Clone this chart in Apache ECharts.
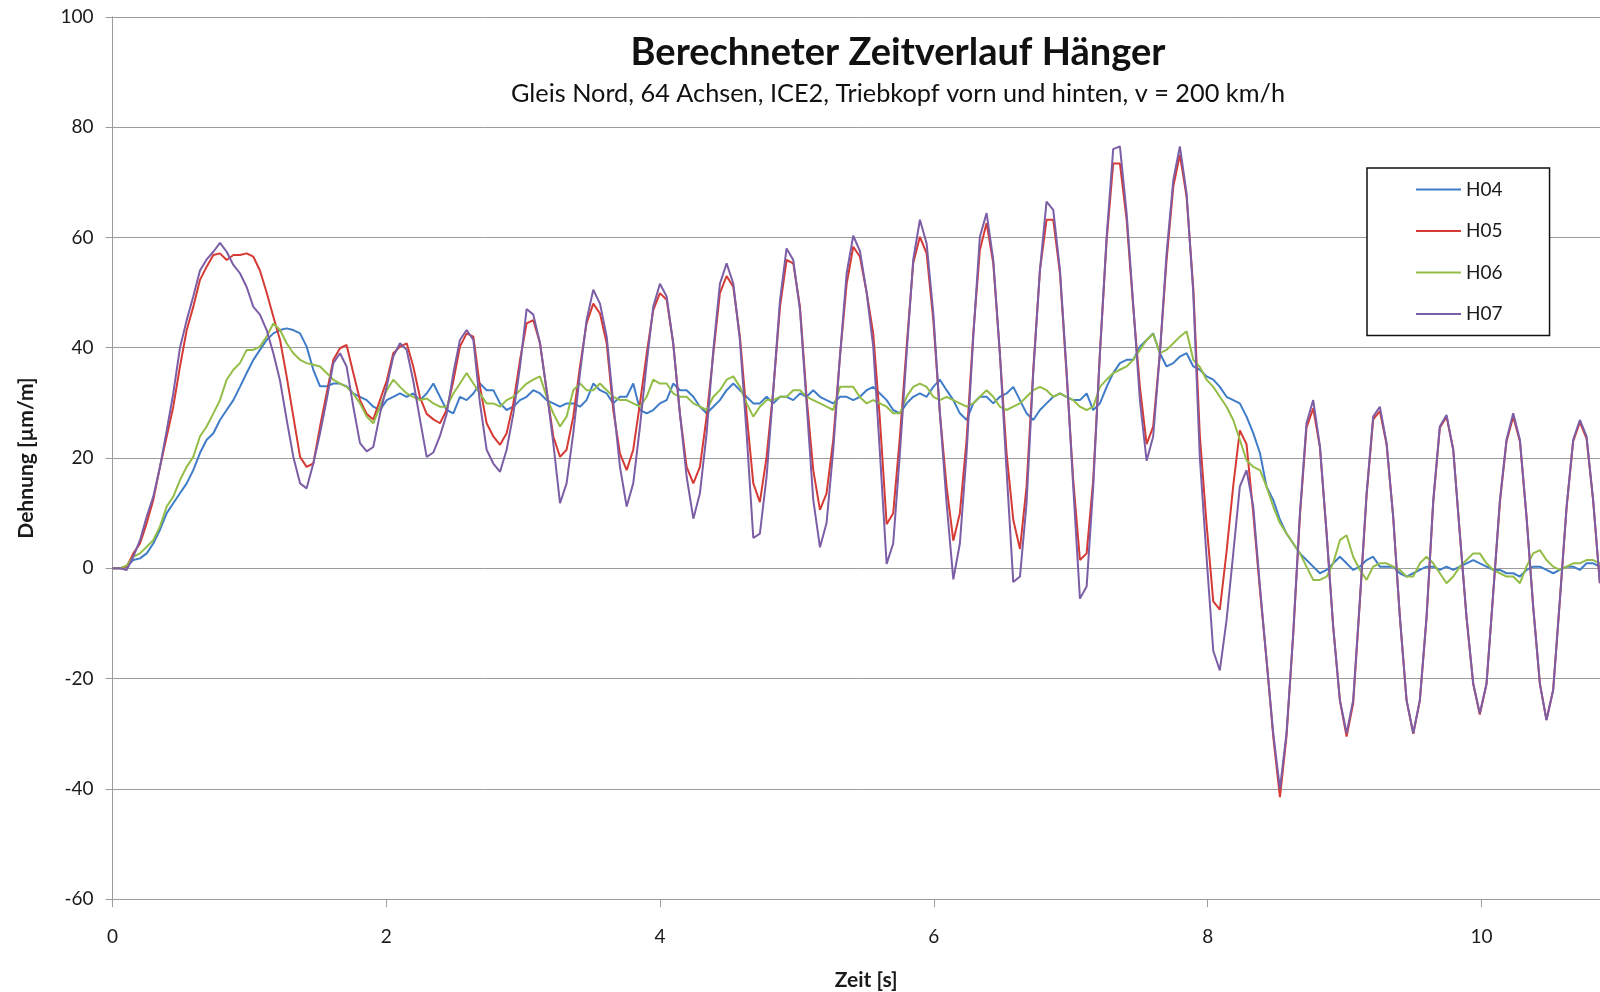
<!DOCTYPE html>
<html>
<head>
<meta charset="utf-8">
<title>Berechneter Zeitverlauf Hänger</title>
<script src="https://cdn.jsdelivr.net/npm/echarts@6/dist/echarts.min.js"></script>
<style>
  html, body { margin: 0; padding: 0; background: #ffffff; }
  #chart { width: 1600px; height: 992px; }
</style>
</head>
<body>
<div id="chart"></div>
<script>
// Zeitstempel der Messpunkte [s]
const zeit = [
  0, 0.055, 0.103, 0.152, 0.201, 0.250, 0.298, 0.347, 0.396, 0.444,
  0.493, 0.542, 0.590, 0.639, 0.688, 0.737, 0.785, 0.834, 0.883, 0.931,
  0.980, 1.029, 1.077, 1.126, 1.175, 1.224, 1.272, 1.321, 1.370, 1.418,
  1.467, 1.516, 1.564, 1.613, 1.662, 1.710, 1.759, 1.808, 1.857, 1.905,
  1.954, 2.003, 2.051, 2.100, 2.149, 2.197, 2.246, 2.295, 2.344, 2.392,
  2.441, 2.490, 2.538, 2.587, 2.636, 2.684, 2.733, 2.782, 2.831, 2.879,
  2.928, 2.977, 3.025, 3.074, 3.123, 3.171, 3.220, 3.269, 3.317, 3.366,
  3.415, 3.463, 3.512, 3.561, 3.610, 3.658, 3.707, 3.756, 3.804, 3.853,
  3.902, 3.950, 3.999, 4.048, 4.096, 4.145, 4.194, 4.243, 4.291, 4.340,
  4.389, 4.437, 4.486, 4.535, 4.583, 4.632, 4.681, 4.729, 4.778, 4.827,
  4.876, 4.924, 4.973, 5.022, 5.070, 5.119, 5.168, 5.216, 5.265, 5.314,
  5.363, 5.411, 5.460, 5.509, 5.557, 5.606, 5.655, 5.703, 5.752, 5.801,
  5.849, 5.898, 5.947, 5.996, 6.044, 6.093, 6.142, 6.190, 6.239, 6.288,
  6.336, 6.385, 6.434, 6.482, 6.531, 6.580, 6.629, 6.677, 6.726, 6.775,
  6.823, 6.872, 6.921, 6.969, 7.018, 7.067, 7.116, 7.164, 7.213, 7.262,
  7.310, 7.359, 7.408, 7.456, 7.505, 7.554, 7.602, 7.651, 7.700, 7.749,
  7.797, 7.846, 7.895, 7.943, 7.992, 8.041, 8.089, 8.138, 8.187, 8.235,
  8.284, 8.333, 8.382, 8.430, 8.479, 8.528, 8.576, 8.625, 8.674, 8.722,
  8.771, 8.820, 8.869, 8.917, 8.966, 9.015, 9.063, 9.112, 9.161, 9.209,
  9.258, 9.307, 9.355, 9.404, 9.453, 9.502, 9.550, 9.599, 9.648, 9.696,
  9.745, 9.794, 9.842, 9.891, 9.940, 9.988, 10.037, 10.086, 10.135, 10.183,
  10.232, 10.281, 10.329, 10.378, 10.427, 10.475, 10.524, 10.573, 10.622, 10.670,
  10.719, 10.768, 10.816, 10.865
];

// Dehnung [µm/m] je Messstelle
const h04 = [
  0, 0, 0.3, 1.5, 1.8, 2.7, 4.5, 7, 10, 11.8,
  13.6, 15.4, 17.8, 20.9, 23.3, 24.5, 26.9, 28.7, 30.5, 32.9,
  35.4, 37.8, 39.6, 41.4, 42.6, 43.2, 43.5, 43.2, 42.6, 40.2,
  36, 33, 33, 33.5, 33.5, 33, 31.7, 31.1, 30.5, 29.3,
  28.7, 30.5, 31.1, 31.7, 31.1, 31.7, 30.5, 31.7, 33.5, 31.1,
  28.7, 28.1, 31.1, 30.5, 31.7, 33.5, 32.3, 32.3, 29.9, 28.7,
  29.3, 30.5, 31.1, 32.3, 31.7, 30.5, 29.9, 29.3, 29.9, 29.9,
  29.3, 30.5, 33.5, 32.3, 31.7, 29.9, 31.1, 31.1, 33.5, 28.7,
  28.1, 28.7, 29.9, 30.5, 33.5, 32.3, 32.3, 31.1, 29.3, 28.1,
  29.3, 30.5, 32.3, 33.5, 32.3, 31.1, 29.9, 29.9, 31.1, 29.9,
  31.1, 31.1, 30.5, 31.7, 31.1, 32.3, 31.1, 30.5, 29.9, 31.1,
  31.1, 30.5, 31.1, 32.3, 32.9, 31.7, 30.5, 28.7, 28.1, 29.9,
  31.1, 31.7, 31.1, 32.9, 34.2, 32.3, 30.5, 28.1, 26.9, 29.9,
  31.1, 31.1, 29.9, 31.1, 31.7, 32.9, 30.5, 28.1, 26.9, 28.7,
  29.9, 31.1, 31.7, 31.1, 30.5, 30.5, 31.7, 28.7, 29.9, 32.9,
  35.4, 37.2, 37.8, 37.8, 40.2, 41.4, 42.6, 39, 36.6, 37.2,
  38.4, 39, 36.6, 36, 34.8, 34.2, 32.9, 31.1, 30.5, 29.9,
  27.5, 24.5, 20.9, 14.8, 12.4, 8.8, 6.3, 4.5, 2.7, 1.5,
  0.3, -0.9, -0.3, 0.9, 2.1, 0.9, -0.3, 0.3, 1.5, 2.1,
  0.3, 0.3, 0.3, -0.9, -1.5, -0.9, -0.3, 0.3, 0.3, -0.3,
  0.3, -0.3, 0.3, 0.9, 1.5, 0.9, 0.3, -0.3, -0.3, -0.9,
  -0.9, -1.5, -0.3, 0.3, 0.3, -0.3, -0.9, -0.3, 0.3, 0.3,
  -0.3, 0.9, 0.9, 0.3
];

const h05 = [
  0, 0, 0.3, 2.7, 4.5, 8.2, 12.4, 18.4, 23.9, 29.3,
  36.6, 43.2, 47.4, 52.3, 54.7, 56.8, 57.1, 55.9, 56.8, 56.8,
  57.1, 56.5, 54, 50, 45.6, 41.4, 34.8, 27.5, 20.2, 18.4,
  19, 25.7, 31.7, 37.8, 39.9, 40.5, 35.4, 30.5, 28, 27,
  30.5, 34, 39, 40.2, 40.8, 36.6, 31, 28, 27, 26.3,
  28.7, 34, 40.2, 42.6, 42, 33, 26.3, 23.9, 22.4, 24.5,
  29.9, 37.8, 44.4, 45, 40.8, 32.3, 23.9, 20.2, 21.5, 27.5,
  36.6, 44.4, 48, 46.2, 40.8, 28.7, 20.8, 17.8, 21.5, 29.9,
  38.9, 46.8, 49.9, 48.7, 40.8, 28, 18.4, 15.4, 18.4, 27.5,
  38.9, 49.9, 53, 51, 42, 28, 15.4, 12, 20.2, 32.3,
  47.4, 55.9, 55.3, 47.4, 31.1, 17.8, 10.6, 13.6, 23.3, 38.4,
  51.6, 58.3, 56.5, 50, 42.6, 26.9, 8, 10, 23.9, 40.2,
  55.3, 60.1, 57.1, 45, 28.1, 14.8, 5, 10, 23.3, 42.6,
  57.7, 62.6, 55.3, 39, 20.9, 8.8, 3.5, 14.8, 36, 54.1,
  63.2, 63.2, 53.5, 35.4, 16, 1.5, 2.7, 16, 39, 59.5,
  73.4, 73.4, 63.2, 47.4, 32.9, 22.5, 25.7, 39, 55.9, 69.2,
  75, 67.4, 50.8, 24, 8, -6, -7.5, 3, 15, 25,
  22.5, 10, -4, -16.5, -30.5, -41.5, -30.5, -12, 9.5, 25.5,
  29, 22, 6.3, -10.6, -24, -30.5, -24.5, -6, 13.2, 27,
  28.5, 22.5, 9.4, -8.8, -24, -30, -24, -9, 12, 25.5,
  27.5, 21.5, 6.3, -9, -21, -26.5, -21, -4.5, 12, 23,
  27.5, 23, 9.4, -7, -21, -27.5, -22, -5.7, 11, 23,
  26.5, 23.5, 12.2, -2.7
];

const h06 = [
  0, 0, 0.5, 2.1, 2.7, 3.9, 5.1, 7.6, 11.2, 13,
  16, 18.4, 20.2, 23.9, 25.7, 28.1, 30.5, 34.2, 36, 37.2,
  39.6, 39.6, 40.2, 42, 44.4, 43.2, 40.8, 39, 37.8, 37.2,
  36.9, 36.6, 35.4, 34.2, 33.5, 32.9, 31.7, 29.9, 27.5, 26.3,
  29.3, 32.3, 34.2, 32.9, 31.7, 31.1, 30.5, 30.8, 29.9, 29.3,
  29.3, 31.7, 33.5, 35.4, 33.5, 31.7, 29.9, 29.9, 29.3, 30.5,
  31.1, 32.3, 33.5, 34.2, 34.8, 31.1, 28.1, 25.7, 27.5, 32.3,
  33.5, 32.3, 32.3, 33.5, 32.3, 31.1, 30.5, 30.5, 29.9, 29.3,
  31.1, 34.2, 33.5, 33.5, 31.7, 31.1, 31.1, 29.9, 29.3, 28.7,
  31.1, 32.3, 34.2, 34.8, 32.9, 29.9, 27.5, 29.3, 30.5, 30.5,
  31.1, 31.1, 32.3, 32.3, 31.1, 30.5, 29.9, 29.3, 28.7, 32.9,
  32.9, 32.9, 31, 29.9, 30.5, 29.9, 29.3, 28.1, 28.1, 31.1,
  32.9, 33.5, 32.9, 31.1, 30.5, 31.1, 30.5, 29.9, 29.3, 29.9,
  31.1, 32.3, 31.1, 29.3, 28.7, 29.3, 29.9, 31.1, 32.3, 32.9,
  32.3, 31.1, 31.7, 31.1, 30.5, 29.3, 28.7, 29.3, 32.9, 34.2,
  35.4, 36, 36.6, 37.8, 39.6, 41.4, 42.5, 39, 39.6, 40.8,
  42, 43, 37.8, 36.5, 34.2, 32.9, 31.1, 29.3, 26.9, 23.3,
  19.6, 18.4, 17.8, 14.8, 11.2, 8.2, 6.3, 4.5, 2.7, 0.3,
  -2.1, -2.1, -1.5, 0.9, 5.1, 6, 2.1, -0.3, -2.1, 0.3,
  0.9, 0.9, 0.3, -0.3, -1.5, -1.5, 0.9, 2.1, 0.9, -0.9,
  -2.7, -1.5, 0.3, 1.5, 2.7, 2.7, 0.9, -0.3, -0.9, -1.5,
  -1.5, -2.7, 0.3, 2.7, 3.3, 1.5, 0.3, -0.3, 0.3, 0.9,
  0.9, 1.5, 1.5, 0.9
];

const h07 = [
  0, 0, -0.3, 2.1, 5.1, 9.4, 13, 18.4, 25, 31.7,
  40, 45, 49.3, 54, 56, 57.4, 59, 57.4, 55, 53.5,
  51, 47.4, 46, 43.2, 39, 34, 27, 20.2, 15.4, 14.5,
  19, 24.5, 30.5, 37.2, 39, 36.6, 29.3, 22.7, 21.2, 22,
  28, 33, 38.4, 40.8, 39.6, 34, 27, 20.2, 21, 24,
  28, 35.4, 41.4, 43.2, 41.4, 30, 21.5, 19, 17.5, 21.5,
  28, 36.6, 47, 46, 40.8, 32.3, 22.7, 11.8, 15.4, 24.5,
  35.4, 45, 50.5, 48, 42, 30, 18.4, 11.2, 15.4, 25.7,
  37.2, 47.4, 51.6, 49.3, 40.8, 28, 16.6, 9, 13.6, 24.5,
  39.6, 51.6, 55.3, 51.6, 41.4, 24.5, 5.5, 6.3, 16.6, 32.3,
  48.6, 58, 55.9, 46.8, 30, 12.4, 3.8, 8.2, 21.5, 38.4,
  53.5, 60.3, 57.5, 50, 40.2, 20.9, 0.8, 4.5, 20.9, 39,
  55.9, 63.2, 58.9, 46.2, 28.1, 11.8, -2, 4.5, 20.9, 42,
  60.1, 64.4, 55.9, 39, 17.8, -2.5, -1.5, 11.8, 35.4, 54.1,
  66.5, 65, 54.1, 36, 14.8, -5.5, -3.3, 14.8, 39, 60.1,
  76, 76.5, 64.4, 48, 30.5, 19.5, 23.9, 39, 57.1, 70.4,
  76.5, 68, 49.9, 20, 2, -15, -18.5, -9.4, 2.7, 14.8,
  17.8, 11.2, -3.3, -16.6, -29.9, -40, -29.9, -11.8, 10, 26.3,
  30.5, 22.1, 6.3, -10.6, -23.9, -29.9, -23.9, -5.7, 13.6, 27.5,
  29.3, 22.7, 9.4, -8.8, -23.9, -29.9, -23.9, -8.8, 12.4, 25.7,
  27.8, 21.5, 6.3, -8.8, -20.9, -26.3, -20.9, -4.5, 12.4, 23.3,
  28.1, 23.3, 9.4, -7, -20.9, -27.5, -22.1, -5.7, 11.2, 23.3,
  26.9, 23.9, 12.4, -2.7
];

const serienNamen = ['H04', 'H05', 'H06', 'H07'];
const serienWerte = [h04, h05, h06, h07];
const serienFarben = ['#3f7cc8', '#d63a35', '#93bd47', '#7b5ea6'];

const titel = 'Berechneter Zeitverlauf Hänger';
const untertitel = 'Gleis Nord, 64 Achsen, ICE2, Triebkopf vorn und hinten, v = 200 km/h';
const yTitel = 'Dehnung [µm/m]';
const xTitel = 'Zeit [s]';

const FONT = 'Lato, "Open Sans", sans-serif';
const GRID_GREY = '#9c9c9c';

const chart = echarts.init(document.getElementById('chart'), null, { renderer: 'canvas' });

const option = {
  backgroundColor: '#ffffff',
  animation: false,
  title: [
    {
      text: titel,
      left: 898,
      top: 34,
      padding: 0,
      textAlign: 'center',
      textStyle: { fontFamily: FONT, fontSize: 38, fontWeight: 'bold', color: '#111111' }
    },
    {
      text: untertitel,
      left: 898,
      top: 81,
      padding: 0,
      textAlign: 'center',
      textStyle: { fontFamily: FONT, fontSize: 25.3, fontWeight: 'normal', color: '#111111' }
    }
  ],
  legend: {
    data: serienNamen,
    orient: 'vertical',
    left: 1367,
    top: 168,
    padding: [12, 47, 12, 49],
    icon: 'rect',
    itemWidth: 45,
    itemHeight: 2,
    itemGap: 22.5,
    backgroundColor: '#ffffff',
    borderColor: '#111111',
    borderWidth: 1.5,
    textStyle: { fontFamily: FONT, fontSize: 19, color: '#1a1a1a', lineHeight: 19 }
  },
  grid: {
    left: 112.5,
    top: 16.8,
    right: 0,
    bottom: 92.8,
    containLabel: false,
    outerBoundsMode: 'none'
  },
  xAxis: {
    type: 'value',
    min: 0,
    max: 10.866,
    interval: 2,
    name: xTitel,
    nameLocation: 'middle',
    nameGap: 71,
    nameTextStyle: {
      fontFamily: FONT, fontSize: 21, fontWeight: 'bold', color: '#1a1a1a',
      padding: [0, 0, 0, 20]
    },
    axisLine: { show: true, onZero: false, lineStyle: { color: GRID_GREY, width: 1 } },
    axisTick: { show: true, length: 8, lineStyle: { color: GRID_GREY } },
    axisLabel: {
      margin: 28,
      fontFamily: FONT, fontSize: 19, color: '#1a1a1a',
      showMaxLabel: false,
      formatter: function (v) { return (Math.abs(v % 2) < 1e-9) ? String(v) : ''; }
    },
    splitLine: { show: false }
  },
  yAxis: {
    type: 'value',
    min: -60,
    max: 100,
    interval: 20,
    name: yTitel,
    nameLocation: 'middle',
    nameRotate: 90,
    nameGap: 76,
    nameTextStyle: { fontFamily: FONT, fontSize: 21, fontWeight: 'bold', color: '#1a1a1a' },
    axisLine: { show: true, lineStyle: { color: GRID_GREY, width: 1 } },
    axisTick: { show: true, length: 7, lineStyle: { color: GRID_GREY } },
    axisLabel: { margin: 19, fontFamily: FONT, fontSize: 19, color: '#1a1a1a' },
    splitLine: { show: true, lineStyle: { color: GRID_GREY, width: 1 } }
  },
  series: serienNamen.map(function (name, i) {
    return {
      name: name,
      type: 'line',
      data: zeit.map(function (t, j) { return [t, serienWerte[i][j]]; }),
      showSymbol: false,
      symbol: 'none',
      smooth: false,
      clip: true,
      color: serienFarben[i],
      lineStyle: { color: serienFarben[i], width: 2 },
      emphasis: { disabled: true }
    };
  })
};

chart.setOption(option);
</script>
</body>
</html>
